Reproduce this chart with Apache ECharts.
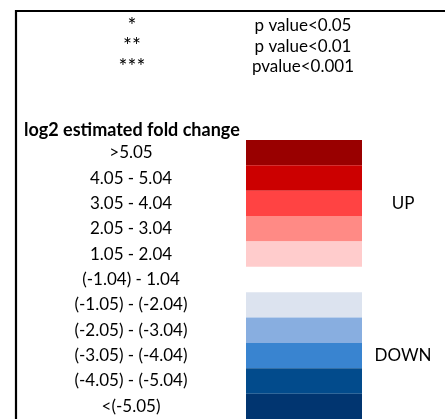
<!DOCTYPE html>
<html><head><meta charset="utf-8">
<script src="https://cdn.jsdelivr.net/npm/echarts@6/dist/echarts.min.js"></script>
<style>html,body{margin:0;padding:0;background:#fff}#c{width:445px;height:419px}</style>
</head><body><div id="c"></div>
<script>
const starLabels = ['*', '**', '***'];
const pLabels = ['p value<0.05', 'p value<0.01', 'pvalue<0.001'];
const rangeLabels = ['>5.05', '4.05 - 5.04', '3.05 - 4.04', '2.05 - 3.04', '1.05 - 2.04', '(-1.04) - 1.04',
  '(-1.05) - (-2.04)', '(-2.05) - (-3.04)', '(-3.05) - (-4.04)', '(-4.05) - (-5.04)', '<(-5.05)'];
const directionLabels = ['', '', 'UP', '', '', '', '', '', 'DOWN', '', ''];
const bandValues = [1, 1, 1, 1, 1, 0, 1, 1, 1, 1, 1];
const bandColors = ['#990000', '#CC0000', '#FF4343', '#FF8A85', '#FFCCCC', '#FFFFFF',
  '#DCE3EF', '#88AEE0', '#3984D0', '#024B8C', '#013570'];

const FONT = 'Lato';
const chart = echarts.init(document.getElementById('c'), null, {renderer: 'canvas'});
const lab = (margin, extra) => Object.assign({
  show: true, interval: 0, align: 'center', margin: margin,
  fontFamily: FONT, fontSize: 17, color: '#000', padding: [4, 0, 0, 0]
}, extra || {});
const hiddenAxis = {axisLine: {show: false}, axisTick: {show: false}, splitLine: {show: false}};

chart.setOption({
  animation: false,
  backgroundColor: '#fff',
  title: {
    text: 'log2 estimated fold change', left: 24, top: 121, padding: 0,
    textStyle: {fontFamily: FONT, fontWeight: 'bold', fontSize: 18, color: '#000'}
  },
  graphic: [{
    type: 'polyline', silent: true,
    shape: {points: [[16, 419], [16, 11], [445, 11]]},
    style: {stroke: '#000', lineWidth: 2.2, fill: null}
  }],
  grid: [
    {left: 200, top: 15.75, width: 50, height: 61.5},
    {left: 246, top: 140, width: 116, height: 286}
  ],
  xAxis: [
    {gridIndex: 0, type: 'value', min: 0, max: 1, show: false},
    {gridIndex: 1, type: 'value', min: 0, max: 1, show: false}
  ],
  yAxis: [
    Object.assign({gridIndex: 0, type: 'category', inverse: true, position: 'left', data: starLabels,
      axisLabel: lab(68, {fontSize: 21, padding: [8, 0, 0, 0]})}, hiddenAxis),
    Object.assign({gridIndex: 0, type: 'category', inverse: true, position: 'right', data: pLabels,
      axisLabel: lab(53)}, hiddenAxis),
    Object.assign({gridIndex: 1, type: 'category', inverse: true, position: 'left', data: rangeLabels,
      axisLabel: lab(115)}, hiddenAxis),
    Object.assign({gridIndex: 1, type: 'category', inverse: true, position: 'right', data: directionLabels,
      axisLabel: lab(41)}, hiddenAxis)
  ],
  series: [
    {type: 'scatter', xAxisIndex: 0, yAxisIndex: 0, data: [], silent: true},
    {
      type: 'bar', xAxisIndex: 1, yAxisIndex: 2, barCategoryGap: '0%', silent: true,
      data: bandValues.map((v, i) => ({value: v, itemStyle: {color: bandColors[i]}}))
    }
  ]
});
</script></body></html>
